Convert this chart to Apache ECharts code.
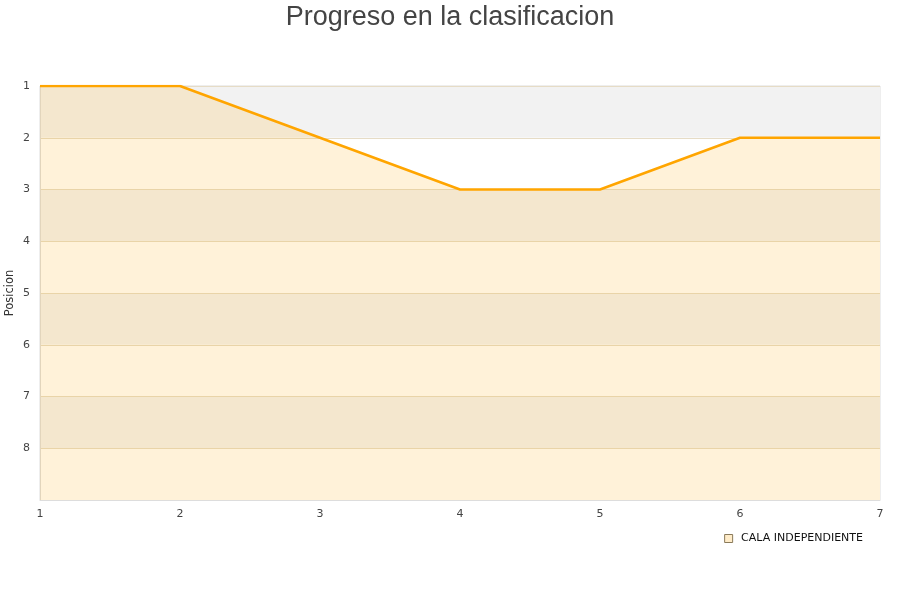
<!DOCTYPE html>
<html>
<head>
<meta charset="utf-8">
<script src="https://cdn.jsdelivr.net/npm/echarts@6/dist/echarts.min.js"></script>
<style>html,body{margin:0;padding:0;background:#fff}#c{width:900px;height:600px}</style>
</head>
<body>
<div id="c"></div>
<script>
var jornadas = [1, 2, 3, 4, 5, 6, 7];
var posiciones = [1, 1, 2, 3, 3, 2, 2];
var seriesName = 'CALA INDEPENDIENTE';
var titleText = 'Progreso en la clasificacion';
var yTicks = [1, 2, 3, 4, 5, 6, 7, 8];

var chart = echarts.init(document.getElementById('c'), null, {renderer: 'canvas'});
var data = jornadas.map(function (j, i) { return [j, posiciones[i]]; });
chart.setOption({
  animation: false,
  backgroundColor: '#ffffff',
  title: {
    text: titleText, left: 'center', top: -1,
    textStyle: {fontFamily: 'Liberation Sans, Arial, sans-serif', fontSize: 27, fontWeight: 'normal', color: '#444444'}
  },
  legend: {
    right: 32, top: 528, itemWidth: 8, itemHeight: 8, itemGap: 8,
    icon: 'rect',
    data: [{name: seriesName, itemStyle: {color: '#ffecc9', borderColor: '#8a7a5a', borderWidth: 1}}],
    formatter: function (n) { return ' ' + n; },
    textStyle: {fontFamily: 'DejaVu Sans, sans-serif', fontSize: 11, color: '#111'}
  },
  grid: {left: 40, right: 20, top: 86, bottom: 100, containLabel: false, outerBoundsMode: 'none', show: true, borderColor: '#dddddd', borderWidth: 1, backgroundColor: 'transparent'},
  xAxis: {
    type: 'value', min: 1, max: 7, interval: 1,
    axisLine: {show: true, lineStyle: {color: '#dddddd'}},
    axisTick: {show: false},
    splitLine: {show: false},
    axisLabel: {color: '#444', fontFamily: 'DejaVu Sans, sans-serif', fontSize: 11, margin: 9}
  },
  yAxis: {
    type: 'value', inverse: true, min: 1, max: 9, interval: 1,
    name: 'Posicion', nameLocation: 'middle', nameGap: 24, nameMoveOverlap: false,
    nameTextStyle: {color: '#333', fontFamily: 'DejaVu Sans, sans-serif', fontSize: 11.5},
    axisLine: {show: true, lineStyle: {color: '#dddddd'}},
    axisTick: {show: false},
    splitLine: {show: true, lineStyle: {color: '#e6dcc6', width: 1}},
    splitArea: {show: true, areaStyle: {color: ['#f2f2f2', '#ffffff']}},
    axisLabel: {
      color: '#444', fontFamily: 'DejaVu Sans, sans-serif', fontSize: 11, margin: 10,
      formatter: function (v) { return yTicks.indexOf(v) >= 0 ? String(v) : ''; }
    }
  },
  series: [{
    name: seriesName, type: 'line', data: data,
    symbol: 'none', smooth: false,
    lineStyle: {color: '#ffa500', width: 2.5},
    itemStyle: {color: '#ffa500'},
    areaStyle: {color: 'rgba(255,165,0,0.21)', origin: 'end'}
  }]
});
</script>
</body>
</html>
